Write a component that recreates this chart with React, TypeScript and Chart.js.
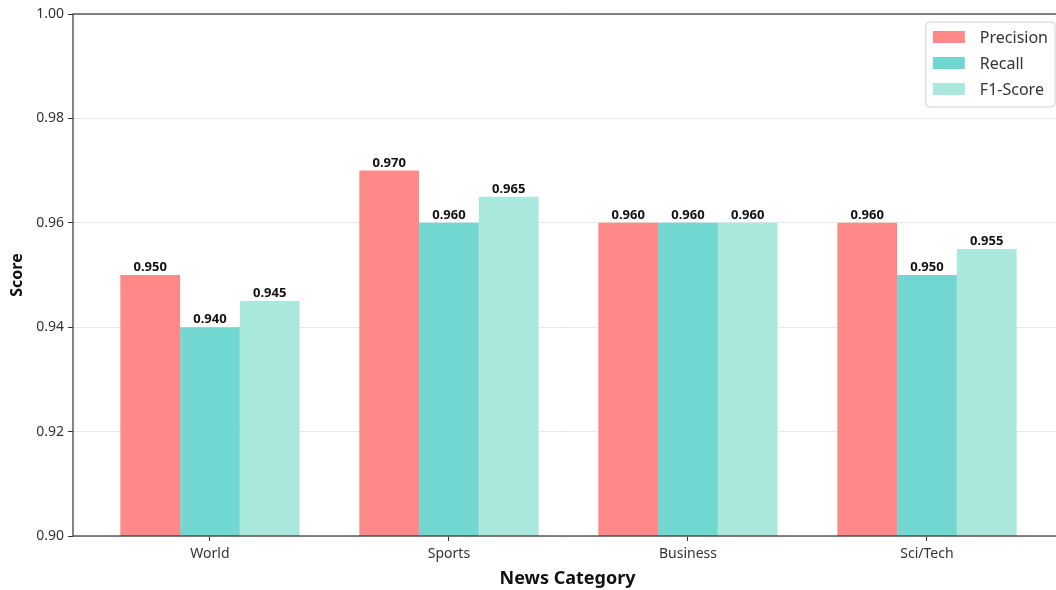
import React, { useEffect, useRef } from "react";
import { Chart, registerables } from "chart.js";

Chart.register(...registerables);

const categories = ["World", "Sports", "Business", "Sci/Tech"];
const precision = [0.95, 0.97, 0.96, 0.96];
const recall = [0.94, 0.96, 0.96, 0.95];
const f1Score = [0.945, 0.965, 0.96, 0.955];
const seriesNames = ["Precision", "Recall", "F1-Score"];
const seriesColors = ["rgb(255,137,137)", "rgb(113,215,208)", "rgb(170,231,220)"];
const yTicks = [0.9, 0.92, 0.94, 0.96, 0.98, 1.0];

const FONT = "'Noto Sans', 'Open Sans', sans-serif";

const frame = {
  id: "frame",
  afterDatasetsDraw(chart: any) {
    const { ctx, chartArea: a } = chart;
    ctx.save();
    ctx.strokeStyle = "#333";
    ctx.lineWidth = 1.2;
    ctx.strokeRect(a.left, a.top, a.right - a.left, a.bottom - a.top);
    ctx.restore();
  },
};

const valueLabels = {
  id: "valueLabels",
  afterDatasetsDraw(chart: any) {
    const { ctx } = chart;
    ctx.save();
    ctx.font = `bold 13px ${FONT}`;
    ctx.fillStyle = "#111";
    ctx.textAlign = "center";
    ctx.textBaseline = "bottom";
    chart.data.datasets.forEach((ds: any, di: number) => {
      const meta = chart.getDatasetMeta(di);
      meta.data.forEach((bar: any, i: number) => {
        ctx.fillText(ds.data[i].y.toFixed(3), bar.x, bar.y - 1);
      });
    });
    ctx.restore();
  },
};

const boxLegend = {
  id: "boxLegend",
  afterDraw(chart: any) {
    const { ctx, chartArea: a } = chart;
    ctx.save();
    ctx.font = `16px ${FONT}`;
    const names = chart.data.datasets.map((d: any) => d.label);
    const tw = Math.max(...names.map((n: string) => ctx.measureText(n).width));
    const w = 7 + 32 + 15 + tw + 7;
    const h = 85;
    const x = a.right - 7 - w;
    const y = a.top + 8;
    ctx.beginPath();
    ctx.roundRect(x, y, w, h, 4);
    ctx.fillStyle = "rgba(255,255,255,0.85)";
    ctx.fill();
    ctx.strokeStyle = "#d0d0d0";
    ctx.lineWidth = 1;
    ctx.stroke();
    chart.data.datasets.forEach((d: any, i: number) => {
      const cy = y + 15 + i * 26;
      ctx.fillStyle = d.backgroundColor;
      ctx.fillRect(x + 7, cy - 6, 32, 12);
      ctx.fillStyle = "#333";
      ctx.textBaseline = "middle";
      ctx.textAlign = "left";
      ctx.fillText(d.label, x + 7 + 32 + 15, cy + 1);
    });
    ctx.restore();
  },
};

export default function App() {
  const ref = useRef<HTMLCanvasElement>(null);
  useEffect(() => {
    if (!ref.current) return;
    const series = [precision, recall, f1Score];
    const chart = new Chart(ref.current, {
      type: "bar",
      data: {
        datasets: series.map((vals, si) => ({
          label: seriesNames[si],
          data: vals.map((v, i) => ({ x: i, y: v })),
          backgroundColor: seriesColors[si],
          borderWidth: 0,
          categoryPercentage: 0.75,
          barPercentage: 1.0,
        })),
      },
      options: {
        animation: false,
        responsive: false,
        maintainAspectRatio: false,
        layout: { padding: { left: 0, top: 14, right: 8, bottom: 0 } },
        plugins: { legend: { display: false }, tooltip: { enabled: false } },
        scales: {
          x: {
            type: "linear",
            min: -0.573,
            max: 3.565,
            offset: false,
            afterFit: (s: any) => {
              s.height = 54;
            },
            grid: { offset: false, drawOnChartArea: false, drawTicks: true, tickLength: 5, tickColor: "#333" },
            border: { display: false },
            ticks: {
              stepSize: 1,
              includeBounds: false,
              autoSkip: false,
              maxRotation: 0,
              padding: 5,
              color: "#333",
              font: { family: FONT, size: 14 },
              callback: (v: any) => (Number.isInteger(v) && categories[v] ? categories[v] : ""),
            },
            title: {
              display: true,
              text: "News Category",
              color: "#111",
              font: { family: FONT, size: 18, weight: "bold" },
              padding: { top: 0, bottom: 0 },
            },
          },
          y: {
            min: 0.9,
            max: 1.0,
            afterFit: (s: any) => {
              s.width = 73;
            },
            afterBuildTicks: (s: any) => {
              s.ticks = yTicks.map((v) => ({ value: v }));
            },
            grid: { color: "#e8e8e8", lineWidth: 1, tickLength: 5, tickColor: "#333" },
            border: { display: false },
            ticks: {
              padding: 4,
              color: "#333",
              font: { family: FONT, size: 14 },
              callback: (v: any) => Number(v).toFixed(2),
            },
            title: {
              display: true,
              text: "Score",
              color: "#111",
              font: { family: FONT, size: 16, weight: "bold" },
              padding: { top: 8, bottom: 0 },
            },
          },
        },
      },
      plugins: [frame, valueLabels, boxLegend],
    });
    return () => chart.destroy();
  }, []);
  return (
    <div style={{ position: "fixed", left: 0, top: 0, width: 1056, height: 590, overflow: "hidden", background: "#fff" }}>
      <canvas ref={ref} width={1070} height={590} style={{ display: "block", width: 1070, height: 590 }} />
    </div>
  );
}
